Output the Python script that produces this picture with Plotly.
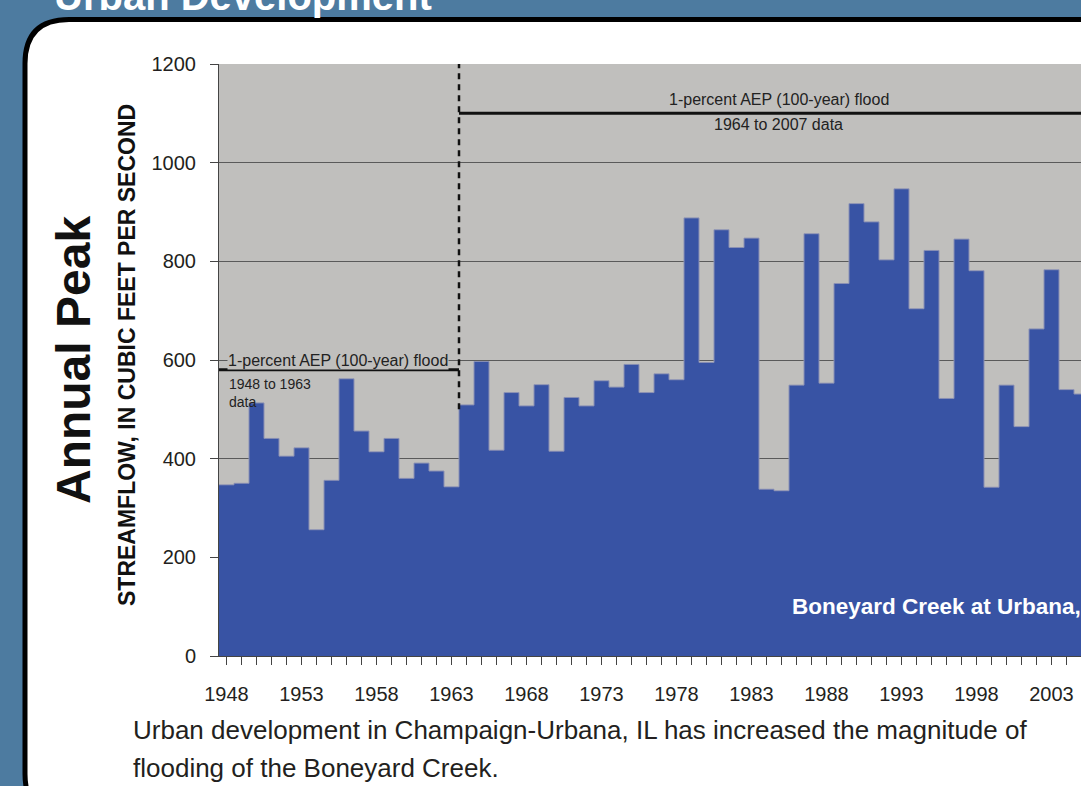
import plotly.graph_objects as go

years = list(range(1948, 2006))
peaks = [347, 350, 513, 441, 405, 422, 256, 356, 562, 456, 414, 441, 360, 391, 375, 343,
         509, 597, 417, 534, 507, 550, 415, 524, 507, 558, 545, 591, 534, 572, 560, 888,
         595, 864, 828, 847, 338, 335, 549, 856, 553, 755, 917, 880, 803, 947, 704, 822,
         522, 845, 781, 342, 549, 465, 663, 783, 540, 531]
y_ticks = [0, 200, 400, 600, 800, 1000, 1200]
x_tick_years = list(range(1948, 2006, 5))
flood_early = 580
flood_late = 1100
split_year = 1963.5

W, H = 1081, 786
ML, MR, MT, MB = 219, 0, 64, 130
PW, PH = W - ML - MR, H - MT - MB

def px(x):
    return (x - ML) / PW

def py(y):
    return (H - MB - y) / PH

SANS = "Liberation Sans, Arial, sans-serif"

fig = go.Figure()
fig.add_trace(go.Bar(
    x=years, y=peaks, width=1,
    marker=dict(color="#3853a4", line=dict(width=0)),
    hoverinfo="x+y",
))
# thin light outline along the tops of the bars (step edge)
edge_x = [yr - 0.5 for yr in years] + [years[-1] + 0.5]
edge_y = peaks + [peaks[-1]]
fig.add_trace(go.Scatter(
    x=edge_x, y=edge_y, mode="lines", line=dict(color="#8a90b4", width=1, shape="hv"),
    hoverinfo="skip",
))

# panel
L, T, R, B, RIGHT = 25, 19.5, 44, 818, 1120
path = (f"M {px(L)},{py(B-R)} L {px(L)},{py(T+R)} Q {px(L)},{py(T)} {px(L+R)},{py(T)} "
        f"L {px(RIGHT)},{py(T)} L {px(RIGHT)},{py(B)} L {px(L+R)},{py(B)} "
        f"Q {px(L)},{py(B)} {px(L)},{py(B-R)} Z")
shapes = [
    dict(type="path", path=path, xref="paper", yref="paper", layer="below",
         fillcolor="white", line=dict(color="black", width=5)),
    dict(type="rect", xref="paper", yref="paper", x0=0, x1=1, y0=0, y1=1, layer="below",
         fillcolor="#c0bfbd", line=dict(width=0)),
    dict(type="line", xref="x", yref="y", x0=1947.5, x1=split_year, y0=flood_early, y1=flood_early,
         line=dict(color="#111111", width=3)),
    dict(type="line", xref="x", yref="y", x0=split_year, x1=2008, y0=flood_late, y1=flood_late,
         line=dict(color="#111111", width=3)),
    dict(type="line", xref="x", yref="y", x0=split_year, x1=split_year, y0=500, y1=1200,
         line=dict(color="#111111", width=2.5, dash="6px,5px")),
]

def ann(text, x, y, size, color="#222222", bold=False, xref="paper", yref="paper",
        xanchor="center", yanchor="middle", angle=0, bg=None, align="center"):
    d = dict(text=text, x=x, y=y, xref=xref, yref=yref, xanchor=xanchor, yanchor=yanchor,
             showarrow=False, textangle=angle, align=align,
             font=dict(family=SANS, size=size, color=color, weight="bold" if bold else "normal"))
    if bg:
        d.update(bgcolor=bg, borderpad=0)
    return d

annotations = [
    ann("Urban Development", px(52), py(-4), 40, "white", True, xanchor="left"),
    ann("Annual Peak", px(73), py(360), 48, "#111111", True, angle=-90),
    ann("STREAMFLOW, IN CUBIC FEET PER SECOND", px(127), py(355), 23, "#111111", True, angle=-90),
    ann("1-percent AEP (100-year) flood", 1955.43, 600, 16, xref="x", yref="y", bg="#c0bfbd"),
    ann("1948 to 1963<br>data", 1948.0, 571, 14, xref="x", yref="y", xanchor="left",
        yanchor="top", align="left"),
    ann("1-percent AEP (100-year) flood", 1984.83, 1128, 16, xref="x", yref="y"),
    ann("1964 to 2007 data", 1984.83, 1077, 16, xref="x", yref="y"),
    ann("Boneyard Creek at Urbana, IL", 1985.57, 100, 22.5, "white", True, xref="x", yref="y",
        xanchor="left"),
    ann("Urban development in Champaign-Urbana, IL has increased the magnitude of",
        px(131), py(730), 26, "#231f20", xanchor="left"),
    ann("flooding of the Boneyard Creek.", px(131), py(768), 26, "#231f20", xanchor="left"),
]

fig.update_layout(
    width=W, height=H, autosize=False,
    margin=dict(l=ML, r=MR, t=MT, b=MB, pad=0),
    paper_bgcolor="#4d7ba0", plot_bgcolor="rgba(0,0,0,0)",
    showlegend=False, bargap=0,
    shapes=shapes, annotations=annotations,
    xaxis=dict(range=[1947.5, 1947.5 + PW / 15], tickvals=x_tick_years, ticks="outside", ticklen=8,
               tickcolor="#444444", showgrid=False, zeroline=False, showline=True, linecolor="#444444",
               tickfont=dict(family=SANS, size=20, color="#231f20"), ticklabelstandoff=12,
               minor=dict(dtick=1, tick0=1948, ticks="outside", ticklen=8, tickcolor="#444444", showgrid=False)),
    yaxis=dict(range=[0, 1200], tickvals=y_ticks, ticks="outside", ticklen=8, tickcolor="#444444",
               showgrid=True, gridcolor="#5a5a5a", gridwidth=1, zeroline=False, showline=True,
               linecolor="#444444", tickfont=dict(family=SANS, size=20, color="#231f20"),
               ticklabelstandoff=10),
)

fig.write_html("out.html", config={"displayModeBar": False},
               post_script="document.body.style.margin='0';document.body.style.overflow='hidden';")
